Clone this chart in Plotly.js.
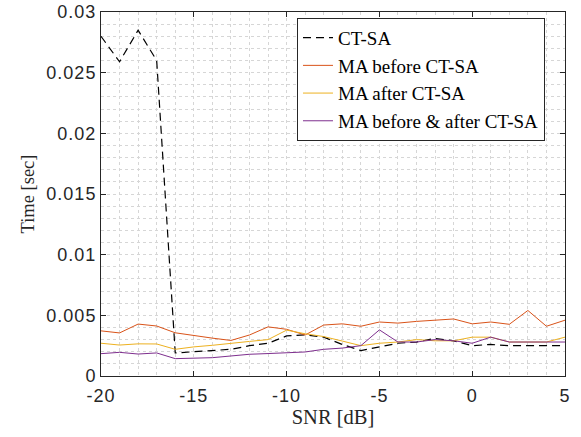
<!DOCTYPE html>
<html>
<head>
<meta charset="utf-8">
<script src="https://cdn.plot.ly/plotly-3.0.1.min.js"></script>
<style>
  html, body { margin: 0; padding: 0; background: #fff; }
  #chart { width: 581px; height: 437px; }
  /* slightly looser spacing for the numeric tick labels */
  #chart .xtick text, #chart .ytick text { letter-spacing: 1px; }
</style>
</head>
<body>
<div id="chart"></div>
<script>
// SNR sweep in dB
const snr = [-20, -19, -18, -17, -16, -15, -14, -13, -12, -11, -10, -9, -8,
             -7, -6, -5, -4, -3, -2, -1, 0, 1, 2, 3, 4, 5];

// Execution time in seconds per method
const ctsa = [0.0280, 0.0259, 0.0285, 0.0260, 0.0019, 0.0020, 0.0021, 0.0022, 0.0025,
              0.0027, 0.0033, 0.0034, 0.0032, 0.0026, 0.0021, 0.0024, 0.0027, 0.0028,
              0.0031, 0.0029, 0.0025, 0.0026, 0.0025, 0.0025, 0.0025, 0.0025];
const maBefore = [0.00372, 0.00355, 0.00428, 0.00412, 0.00356, 0.00332, 0.00312, 0.00293,
                  0.00338, 0.00405, 0.00385, 0.00338, 0.00420, 0.00430, 0.00410, 0.00445,
                  0.00436, 0.00450, 0.00460, 0.00470, 0.00430, 0.00445, 0.00426, 0.00540,
                  0.00410, 0.00460];
const maAfter = [0.00270, 0.00255, 0.00265, 0.00264, 0.00220, 0.00240, 0.00253, 0.00266,
                 0.00285, 0.00300, 0.00378, 0.00348, 0.00325, 0.00288, 0.00250, 0.00270,
                 0.00280, 0.00300, 0.00290, 0.00290, 0.00320, 0.00320, 0.00280, 0.00280,
                 0.00280, 0.00320];
const maBoth = [0.00184, 0.00195, 0.00181, 0.00190, 0.00143, 0.00146, 0.00151, 0.00165,
                0.00179, 0.00185, 0.00190, 0.00198, 0.00220, 0.00230, 0.00250, 0.00380,
                0.00280, 0.00280, 0.00300, 0.00290, 0.00270, 0.00320, 0.00280, 0.00280,
                0.00280, 0.00280];

const seriesNames = ['CT-SA', 'MA before CT-SA', 'MA after CT-SA', 'MA before &amp; after CT-SA'];

// Axis ticks
const xTickVals = [-20, -15, -10, -5, 0, 5];
const xTickText = ['-20', '-15', '-10', '-5', '0', '5'];
const yTickVals = [0, 0.005, 0.01, 0.015, 0.02, 0.025, 0.03];
const yTickText = ['0', '0.005', '0.01', '0.015', '0.02', '0.025', '0.03'];

const axisColor = '#262626';
const gridColor = '#d6d6d6';
const tickFont = { family: 'Liberation Sans, Arial, sans-serif', size: 18, color: axisColor };
const serif = 'Liberation Serif, Times New Roman, serif';

const traces = [
  { x: snr, y: ctsa, name: seriesNames[0], mode: 'lines',
    line: { color: '#000000', width: 1.2, dash: '8px,5px' } },
  { x: snr, y: maBefore, name: seriesNames[1], mode: 'lines',
    line: { color: '#D95319', width: 1 } },
  { x: snr, y: maAfter, name: seriesNames[2], mode: 'lines',
    line: { color: '#EDB120', width: 1 } },
  { x: snr, y: maBoth, name: seriesNames[3], mode: 'lines',
    line: { color: '#7E2F8E', width: 1 } }
];

const layout = {
  width: 581, height: 437,
  margin: { l: 101, r: 16, t: 12, b: 61 },
  paper_bgcolor: '#ffffff', plot_bgcolor: '#ffffff',
  showlegend: true,
  legend: {
    x: 0.4224, y: 0.984, xanchor: 'left', yanchor: 'top',
    bgcolor: '#ffffff', bordercolor: axisColor, borderwidth: 1,
    font: { family: serif, size: 19, color: '#000000' },
    tracegroupgap: 0, itemwidth: 30
  },
  xaxis: {
    range: [-20, 5], tickvals: xTickVals, ticktext: xTickText,
    ticks: 'inside', ticklen: 5, tickcolor: axisColor, tickwidth: 1,
    showline: true, linecolor: axisColor, linewidth: 1, mirror: 'ticks',
    showgrid: true, gridcolor: gridColor, griddash: 'dot', gridwidth: 1,
    minor: { dtick: 1, showgrid: true, gridcolor: gridColor, griddash: 'dot', gridwidth: 1 },
    zeroline: false, tickfont: tickFont, ticklabelstandoff: 3,
    title: { text: 'SNR [dB]', font: { family: serif, size: 20.5, color: axisColor }, standoff: 5 }
  },
  yaxis: {
    range: [0, 0.03], tickvals: yTickVals, ticktext: yTickText,
    ticks: 'inside', ticklen: 5, tickcolor: axisColor, tickwidth: 1,
    showline: true, linecolor: axisColor, linewidth: 1, mirror: 'ticks',
    showgrid: true, gridcolor: gridColor, griddash: 'dot', gridwidth: 1,
    minor: { dtick: 0.001, showgrid: true, gridcolor: gridColor, griddash: 'dot', gridwidth: 1 },
    zeroline: false, tickfont: tickFont, ticklabelstandoff: 0,
    title: { text: 'Time [sec]', font: { family: serif, size: 18.5, color: axisColor }, standoff: 11 }
  }
};

Plotly.newPlot('chart', traces, layout, { displayModeBar: false, staticPlot: true });
</script>
</body>
</html>
